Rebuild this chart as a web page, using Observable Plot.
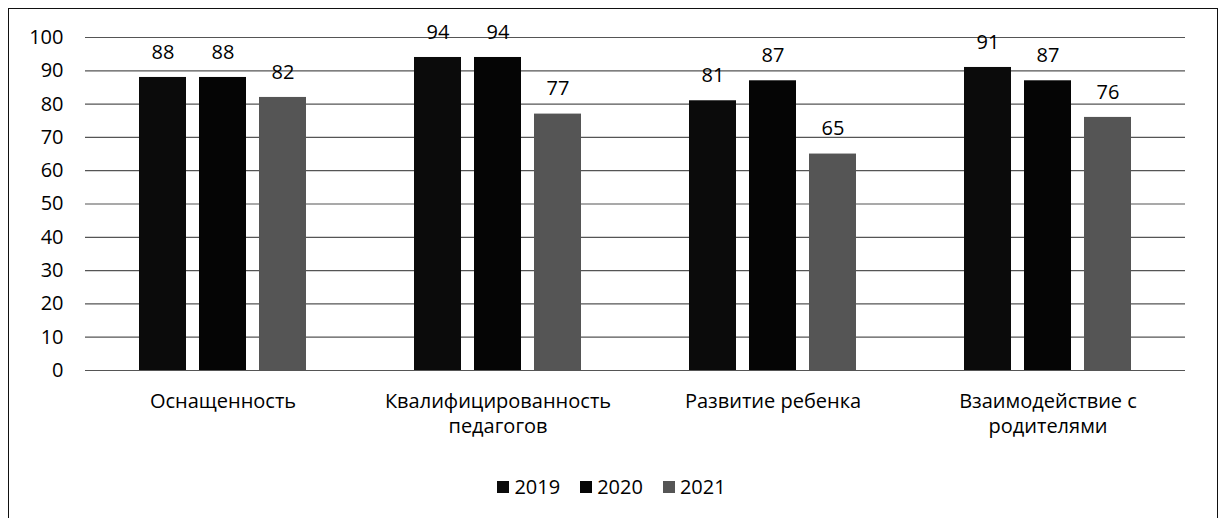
<!DOCTYPE html>
<html><head><meta charset="utf-8">
<script src="https://cdn.jsdelivr.net/npm/d3@7"></script>
<script src="https://cdn.jsdelivr.net/npm/@observablehq/plot@0.6"></script>
<style>
body{margin:8px;background:#fff;font-family:"Open Sans",sans-serif;}
#frame{border:1.5px solid #111;width:1210px;height:560px;box-sizing:border-box;position:relative;overflow:hidden;}
#legend{display:flex;justify-content:center;gap:20px;font-size:20px;color:#000;margin-top:24px;margin-left:-3px;}
.item{display:flex;align-items:center;gap:5px;}
.sw{width:12px;height:12px;display:inline-block;}
</style></head>
<body>
<div id="frame"><div id="chart"></div><div id="legend"></div></div>
<script>
const categories = ["Оснащенность", "Квалифицированность педагогов", "Развитие ребенка", "Взаимодействие с родителями"];
const categoryLabels = ["Оснащенность", "Квалифицированность\nпедагогов", "Развитие ребенка", "Взаимодействие с\nродителями"];
const years = ["2019", "2020", "2021"];
const values2019 = [88, 94, 81, 91];
const values2020 = [88, 94, 87, 87];
const values2021 = [82, 77, 65, 76];
const yTicks = [0, 10, 20, 30, 40, 50, 60, 70, 80, 90, 100];
const colors = ["#0b0b0b", "#050505", "#555555"];

const series = [values2019, values2020, values2021];
const data = [];
categories.forEach((c, i) => years.forEach((y, j) => data.push({category: c, year: y, value: series[j][i]})));

const chart = Plot.plot({
  width: 1207,
  height: 440,
  marginLeft: 76,
  marginRight: 31,
  marginTop: 28,
  marginBottom: 79,
  style: {fontFamily: "'Open Sans', sans-serif", fontSize: "20px", color: "#000"},
  fx: {domain: categories, padding: 0, label: null},
  x: {domain: years, paddingInner: 0.21, paddingOuter: 0.87, axis: null},
  y: {domain: [0, 100], ticks: yTicks, label: null},
  color: {domain: years, range: colors},
  marks: [
    Plot.gridY(yTicks, {stroke: "#555", strokeOpacity: 1, strokeWidth: 1.2}),
    Plot.axisY(yTicks, {tickSize: 0, tickPadding: 22, label: null, fontSize: 20}),
    Plot.barY(data, {fx: "category", x: "year", y: "value", fill: "year"}),
    Plot.text(data, {fx: "category", x: "year", y: "value", text: "value", dy: -25, fontSize: 20, fill: "#000"}),
    Plot.axisFx({anchor: "bottom", tickSize: 0, tickPadding: 20, label: null, lineAnchor: "top", fontSize: 20, lineHeight: 1.25,
      tickFormat: d => categoryLabels[categories.indexOf(d)]})
  ]
});
document.getElementById("chart").appendChild(chart);

const legend = document.getElementById("legend");
years.forEach((y, j) => {
  const it = document.createElement("span"); it.className = "item";
  const sw = document.createElement("span"); sw.className = "sw"; sw.style.background = colors[j];
  const t = document.createElement("span"); t.textContent = y;
  it.appendChild(sw); it.appendChild(t); legend.appendChild(it);
});
</script>
</body></html>
